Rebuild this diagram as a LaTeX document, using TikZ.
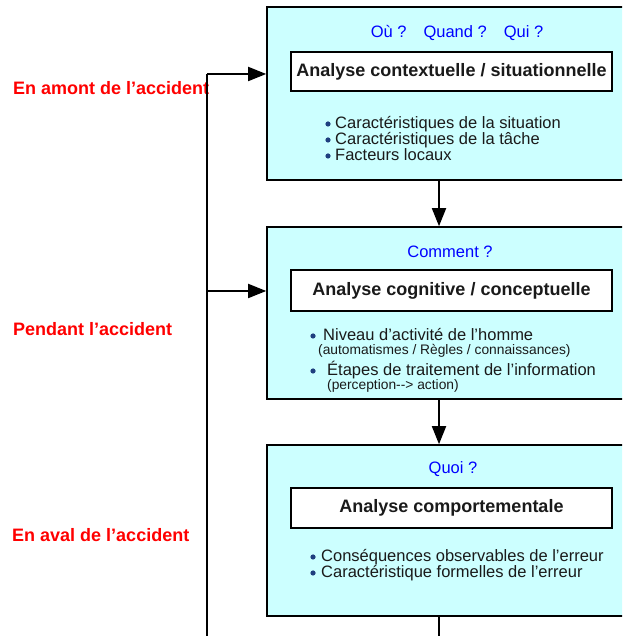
\documentclass[tikz,border=0pt]{standalone}
\usepackage{fontspec}
\setmainfont{Liberation Sans}
\usetikzlibrary{arrows.meta}
\definecolor{boxfill}{HTML}{CCFFFF}
\definecolor{qblue}{HTML}{0000FF}
\definecolor{lred}{HTML}{FF0000}
\definecolor{bulc}{HTML}{1F3F7F}
\definecolor{txt}{HTML}{1A1A1A}
\tikzset{
  outerbox/.style={draw=black, line width=1.6pt, fill=boxfill, minimum width=358pt, inner sep=0pt},
  innerbox/.style={draw=black, line width=1.6pt, fill=white, minimum width=321pt, inner sep=0pt, font=\fontsize{18}{20}\selectfont\bfseries, text=txt},
  question/.style={font=\fontsize{16.5}{18}\selectfont, text=qblue, inner sep=0pt},
  item/.style={font=\fontsize{16.5}{18}\selectfont, text=txt, anchor=base west, inner sep=0pt},
  subitem/.style={font=\fontsize{13.8}{15}\selectfont, text=txt, anchor=base west, inner sep=0pt},
  phase/.style={font=\fontsize{18}{20}\selectfont\bfseries, text=lred, anchor=base west, inner sep=0pt},
  conn/.style={line width=1.8pt, draw=black},
  arr/.style={conn, -{Triangle[length=18pt,width=14pt]}},
  dot/.style={fill=bulc}
}
\begin{document}
\begin{tikzpicture}[x=1pt,y=1pt]
\useasboundingbox (0,0) rectangle (622,636);
\clip (0,0) rectangle (622,636);
% outer boxes
\node[outerbox, minimum height=173pt] (box1) at (446,542.5) {};
\node[outerbox, minimum height=172pt] (box2) at (446,323) {};
\node[outerbox, minimum height=171pt] (box3) at (446,105.5) {};
% inner title boxes
\node[innerbox, minimum height=39pt] (t1) at (451.5,564.5) {Analyse contextuelle / situationnelle};
\node[innerbox, minimum height=41pt] (t2) at (451.5,345.5) {Analyse cognitive / conceptuelle};
\node[innerbox, minimum height=40pt] (t3) at (451.5,128) {Analyse comportementale};
% questions
\node[question] (q1) at (457,603) {Où ?\hspace{17pt}Quand ?\hspace{17pt}Qui ?};
\node[question] (q2) at (450,384) {Comment ?};
\node[question] (q3) at (453,167) {Quoi ?};
% box 1 items
\node[item] (a1) at (335,507) {Caractéristiques de la situation};
\node[item] (a2) at (335,491) {Caractéristiques de la tâche};
\node[item] (a3) at (335,475) {Facteurs locaux};
\fill[dot] (328,512) circle (2.6pt);
\fill[dot] (328,496) circle (2.6pt);
\fill[dot] (328,480) circle (2.6pt);
% box 2 items
\node[item] (b1) at (323,295) {Niveau d’activité de l’homme};
\node[subitem] (b2) at (318,281) {(automatismes / Règles / connaissances)};
\node[item] (b3) at (327,260) {Étapes de traitement de l’information};
\node[subitem] (b4) at (327,246) {(perception-{}-> action)};
\fill[dot] (313,300) circle (2.6pt);
\fill[dot] (313,265) circle (2.6pt);
% box 3 items
\node[item] (c1) at (321,74) {Conséquences observables de l’erreur};
\node[item] (c2) at (321,58) {Caractéristique formelles de l’erreur};
\fill[dot] (313,79) circle (2.6pt);
\fill[dot] (313,63) circle (2.6pt);
% phase labels
\node[phase] (p1) at (13,541) {En amont de l’accident};
\node[phase] (p2) at (13,300) {Pendant l’accident};
\node[phase] (p3) at (12,94) {En aval de l’accident};
% connectors
\coordinate (ltop) at (207,562);
\coordinate (lmid) at (207,345);
\coordinate (lbot) at (207,-2);
\coordinate (rbot) at (439,-2);
\draw[conn] (ltop) -- (lbot);
\draw[arr] (ltop) -- (ltop -| box1.west);
\draw[arr] (lmid) -- (lmid -| box2.west);
\draw[arr] ([xshift=-7pt]box1.south) -- ([xshift=-7pt]box2.north);
\draw[arr] ([xshift=-7pt]box2.south) -- ([xshift=-7pt]box3.north);
\draw[conn] ([xshift=-7pt]box3.south) -- (rbot);
\end{tikzpicture}
\end{document}
